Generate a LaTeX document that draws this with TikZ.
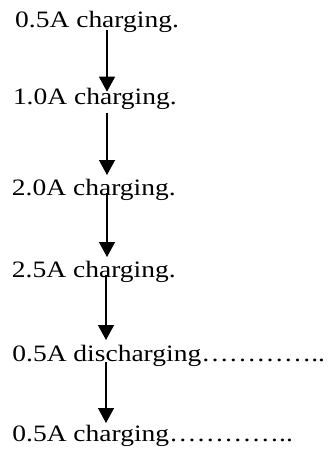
\documentclass[tikz,border=0pt]{standalone}
\usepackage{fontspec}
\setmainfont{Liberation Serif}[FakeStretch=1.17]
\usetikzlibrary{arrows.meta}
\begin{document}
\begin{tikzpicture}[x=1pt,y=-1pt,
  lbl/.style={anchor=base west,inner sep=0pt,font=\fontsize{23.5}{26}\selectfont},
  arr/.style={line width=1.4pt,-{Triangle[width=16pt,length=15pt]}}]
\useasboundingbox (0,0) rectangle (328,450);
\node[lbl] (n1) at (15,27.5) {0.5A charging.};
\node[lbl] (n2) at (12.8,104) {1.0A charging.};
\node[lbl] (n3) at (11.8,195) {2.0A charging.};
\node[lbl] (n4) at (11.8,277.7) {2.5A charging.};
\node[lbl] (n5) at (12.2,361) {0.5A discharging…………..};
\node[lbl] (n6) at (12.2,441.5) {0.5A charging…………..};
\coordinate (a1) at (107,30);  \coordinate (b1) at (107,91.7);
\coordinate (a2) at (107,113); \coordinate (b2) at (107,175);
\coordinate (a3) at (107,193); \coordinate (b3) at (107,257);
\coordinate (a4) at (106,275); \coordinate (b4) at (106,340);
\coordinate (a5) at (106,362); \coordinate (b5) at (106,423);
\draw[arr] (a1) -- (b1);
\draw[arr] (a2) -- (b2);
\draw[arr] (a3) -- (b3);
\draw[arr] (a4) -- (b4);
\draw[arr] (a5) -- (b5);
\end{tikzpicture}
\end{document}
